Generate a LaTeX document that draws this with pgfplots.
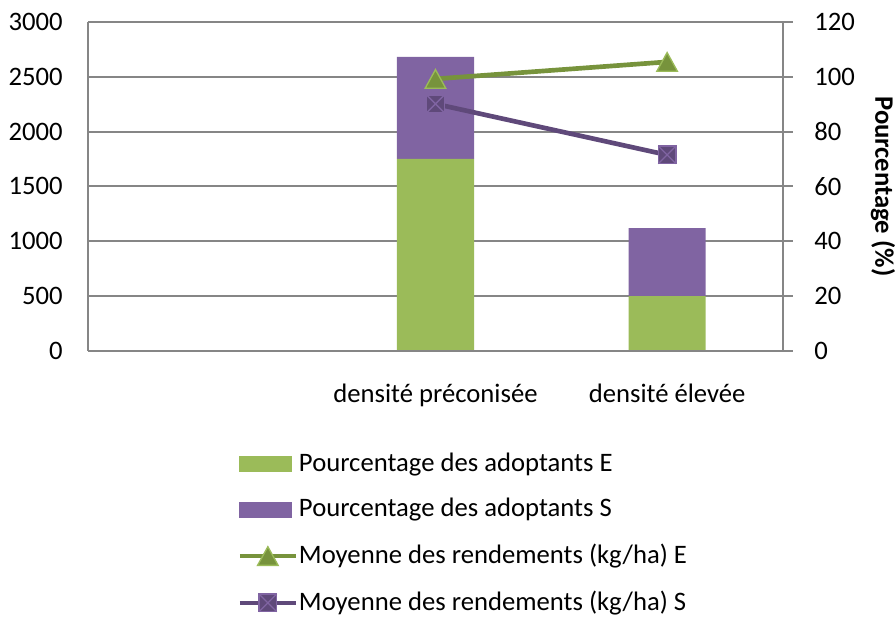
\documentclass[border=0pt]{standalone}
\usepackage{fontspec}
\setmainfont{Carlito}
\usepackage{pgfplots}
\pgfplotsset{compat=1.18}
\definecolor{barE}{HTML}{9BBB59}
\definecolor{barS}{HTML}{8064A2}
\definecolor{lineE}{HTML}{77933C}
\definecolor{lineS}{HTML}{5F497A}
\definecolor{gridc}{HTML}{868686}
\pgfdeclareplotmark{tri}{%
  \pgfpathmoveto{\pgfpoint{0pt}{\pgfplotmarksize}}%
  \pgfpathlineto{\pgfpoint{-1.1\pgfplotmarksize}{-\pgfplotmarksize}}%
  \pgfpathlineto{\pgfpoint{1.1\pgfplotmarksize}{-\pgfplotmarksize}}%
  \pgfpathclose
  \pgfusepathqfillstroke}
\pgfdeclareplotmark{sqx}{%
  \pgfpathrectangle{\pgfpoint{-\pgfplotmarksize}{-\pgfplotmarksize}}{\pgfpoint{2\pgfplotmarksize}{2\pgfplotmarksize}}%
  \pgfusepathqfillstroke
  \pgfpathmoveto{\pgfpoint{-\pgfplotmarksize}{-\pgfplotmarksize}}%
  \pgfpathlineto{\pgfpoint{\pgfplotmarksize}{\pgfplotmarksize}}%
  \pgfpathmoveto{\pgfpoint{-\pgfplotmarksize}{\pgfplotmarksize}}%
  \pgfpathlineto{\pgfpoint{\pgfplotmarksize}{-\pgfplotmarksize}}%
  \pgfusepathqstroke}
\pgfplotsset{
  base/.style={
    at={(33pt,100.9pt)}, anchor=south west,
    scale only axis, width=260.6pt, height=123.4pt,
    xmin=-0.5, xmax=2.5,
    /pgf/number format/assume math mode=true,
    /pgf/number format/1000 sep={},
    tick label style={font=\fontsize{10}{12}\selectfont, text=black},
    axis line style={gridc, line width=0.75pt},
  },
  linelegend/.style={legend image code/.code={\draw[mark repeat=2,mark phase=2,##1] plot coordinates {(0pt,0pt) (10.5pt,0pt) (21pt,0pt)};}},
  barEleg/.style={legend image code/.code={\fill[barE] (0pt,-2.8pt) rectangle (19.5pt,2.8pt);}},
  barSleg/.style={legend image code/.code={\fill[barS] (0pt,-2.8pt) rectangle (19.5pt,2.8pt);}},
}
\begin{document}
\begin{tikzpicture}
\useasboundingbox (0,0) rectangle (336pt,232.5pt);
% bars, right axis (percentage)
\begin{axis}[base,
  ymin=0, ymax=120, ytick={0,20,...,120},
  axis y line*=right, axis x line=none,
  ybar stacked, bar width=28.9pt,
  ymajorgrids, grid style={gridc, line width=0.75pt},
  ytick style={gridc, line width=0.75pt}, major tick length=3.75pt, tick align=outside,
  xtick={0,1,2},
  yticklabel={\hspace*{4.5pt}\pgfmathprintnumber{\tick}},
  ylabel={\bfseries Pourcentage (\%)},
  every axis y label/.style={at={(axis description cs:1.1439,0.5)}, anchor=center,
    rotate=-90, font=\fontsize{10}{12}\selectfont},
]
\addplot[fill=barE, draw=none] coordinates {(1,70) (2,20)};
\addplot[fill=barS, draw=none] coordinates {(1,37.2) (2,24.8)};
\end{axis}
% lines, left axis (kg/ha)
\begin{axis}[base,
  ymin=0, ymax=3000, ytick={0,500,...,3000},
  axis y line*=left, axis x line*=bottom,
  xtick={0,1,2}, xticklabels={,densité préconisée,densité élevée},
  major tick length=0pt, tick style={draw=none},
  xticklabel style={yshift=-9pt},
  yticklabel style={xshift=-6pt},
  legend cell align=left,
  legend style={draw=none, fill=none, at={(0.2144,-0.291)}, anchor=north west,
    inner sep=0pt, row sep=4.75pt, nodes={inner xsep=0.3pt}, font=\fontsize{10}{12}\selectfont},
]
\addlegendimage{barEleg}
\addlegendentry{Pourcentage des adoptants E}
\addlegendimage{barSleg}
\addlegendentry{Pourcentage des adoptants S}
\addplot[lineE, line width=1.75pt, mark=tri, mark size=3.5pt,
  mark options={fill=lineE, draw=barE, line width=0.5pt}, linelegend]
  coordinates {(1,2480) (2,2635)};
\addlegendentry{Moyenne des rendements (kg/ha) E}
\addplot[lineS, line width=1.75pt, mark=sqx, mark size=3.3pt,
  mark options={fill=lineS, draw=barS, line width=0.5pt}, linelegend]
  coordinates {(1,2252) (2,1787)};
\addlegendentry{Moyenne des rendements (kg/ha) S}
\end{axis}
\end{tikzpicture}
\end{document}
